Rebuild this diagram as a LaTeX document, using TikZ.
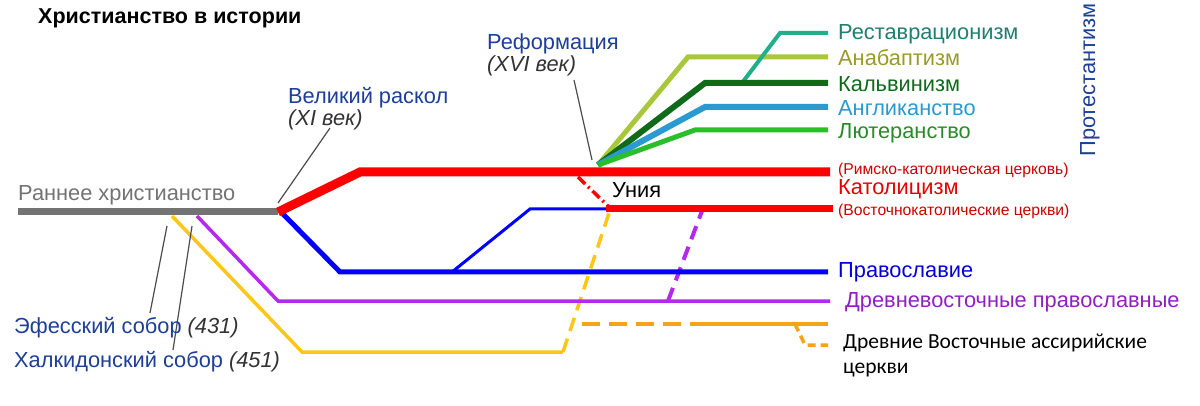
\documentclass[tikz,border=0pt]{standalone}
\usepackage{fontspec}
\setmainfont{Liberation Sans}
\newfontfamily\calib{Carlito}
\begin{document}
\begin{tikzpicture}[x=1pt,y=-1pt,
 lbl/.style={anchor=west,inner sep=0pt,font=\fontsize{21.8}{24}\selectfont},
 itl/.style={anchor=west,inner sep=0pt,text=black!80,font=\fontsize{21.8}{24}\selectfont\itshape},
 sml/.style={anchor=west,inner sep=0pt,font=\fontsize{15.7}{18}\selectfont,text=red!80!black},
 asl/.style={anchor=west,inner sep=0pt,font=\calib\fontsize{21.5}{24}\selectfont},
 lead/.style={draw=black!70,line width=1.2pt},
 line join=miter]
\useasboundingbox[fill=white] (0,0) rectangle (1200,406);
\definecolor{resto}{HTML}{1FAF8A}\definecolor{restot}{HTML}{1F7F70}
\definecolor{anab}{HTML}{A8C83A}\definecolor{anabt}{HTML}{9A9A2A}
\definecolor{calv}{HTML}{0F6A1A}
\definecolor{angl}{HTML}{2A9AD0}
\definecolor{luth}{HTML}{2ABF2A}\definecolor{lutht}{HTML}{2A8A2A}
\definecolor{ora}{HTML}{F7A21B}\definecolor{yel}{HTML}{FFC61A}
\definecolor{pur}{HTML}{B428F0}\definecolor{dblue}{HTML}{1E3F99}
\coordinate (g0) at (18,212); \coordinate (sch) at (278,212);
\coordinate (ref) at (598,165);
% lines
\draw[yel,line width=3.5pt] (172,216) -- (302,352) -- (563,352);
\draw[yel,line width=3.5pt,dash pattern=on 14pt off 8pt] (563,352) -- (610,210);
\draw[pur,line width=3.5pt] (197,216) -- (278,301) -- (830,301);
\draw[pur,line width=4pt,dash pattern=on 14pt off 8pt] (668,301) -- (702,211);
\draw[ora,line width=3.5pt,dash pattern=on 18pt off 9pt] (582,324) -- (700,324);
\draw[ora,line width=3.5pt] (700,324) -- (828,324);
\draw[ora,line width=3.5pt,dash pattern=on 8pt off 5pt] (795,324) -- (805,345) -- (828,345);
\draw[blue,line width=3pt] (452,272) -- (530,209) -- (606,209);
\draw[blue,line width=5pt] (283,214) -- (340,272) -- (828,272);
\draw[red,line width=7pt] (606,209) -- (833,209);
\draw[red,line width=3.5pt,dash pattern=on 10pt off 4pt on 2pt off 4pt] (578,177) -- (608,206);
\draw[black!55,line width=7pt] (g0) -- (sch);
\draw[red,line width=9pt] (sch) -- (360,172) -- (830,172);
\draw[anab,line width=5pt] (ref) -- (688,57) -- (828,57);
\draw[resto,line width=4pt] (742,83) -- (780,33) -- (828,33);
\draw[calv,line width=6pt] (ref) -- (705,83) -- (828,83);
\draw[angl,line width=6pt] (ref) -- (705,107) -- (828,107);
\draw[luth,line width=5pt] (ref) -- (695,130) -- (828,130);
% leaders
\draw[lead] (330,128) -- (278,203);
\draw[lead] (574,80) -- (592,160);
\draw[lead] (167,226) -- (150,313);
\draw[lead] (192,226) -- (173,350);
% texts
\node[anchor=west,inner sep=0pt,font=\fontsize{21.5}{24}\selectfont\bfseries] (t) at (38,18) {Христианство в истории};
\node[lbl,text=restot] (n1) at (838,34) {Реставрационизм};
\node[lbl,text=anabt] (n2) at (838,58) {Анабаптизм};
\node[lbl,text=calv] (n3) at (838,84) {Кальвинизм};
\node[lbl,text=angl] (n4) at (838,108) {Англиканство};
\node[lbl,text=lutht] (n5) at (838,133) {Лютеранство};
\node[font=\fontsize{21.8}{24}\selectfont,text=dblue,rotate=90,inner sep=0pt] (prot) at (1090,80) {Протестантизм};
\node[sml] (rk) at (838,170) {(Римско-католическая церковь)};
\node[lbl,text=red!90!black] (kat) at (838,189) {Католицизм};
\node[sml] (vk) at (838,211) {(Восточнокатолические церкви)};
\node[lbl,text=blue!85!black] (prav) at (838,272) {Православие};
\node[lbl,text=pur!80!black] (dvp) at (845,302) {Древневосточные православные};
\node[asl] (asr) at (843,343) {Древние Восточные ассирийские};
\node[asl] (asr2) at (843,370) {церкви};
\node[lbl] (un) at (612,190) {Уния};
\node[lbl,text=dblue] (vr) at (288,98) {Великий раскол};
\node[itl] (vr2) at (288,120) {(XI век)};
\node[lbl,text=dblue] (rf) at (487,44) {Реформация};
\node[itl] (rf2) at (487,66) {(XVI век)};
\node[lbl,text=black!55] (rx) at (18,195) {Раннее христианство};
\node[lbl,text=dblue] (ef) at (14,328) {Эфесский собор \textcolor{black!80}{\itshape(431)}};
\node[lbl,text=dblue] (hk) at (14,362) {Халкидонский собор \textcolor{black!80}{\itshape(451)}};
\end{tikzpicture}
\end{document}
